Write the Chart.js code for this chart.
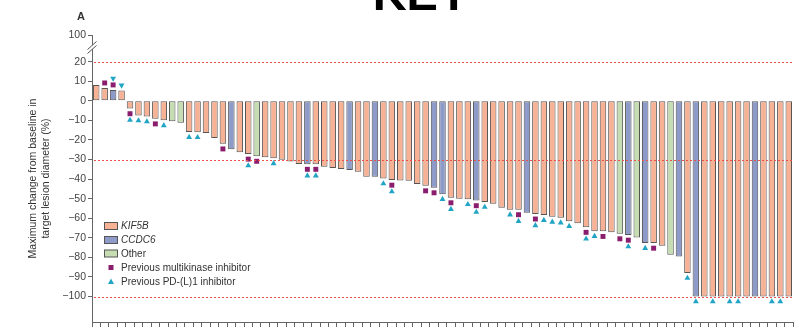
<!DOCTYPE html>
<html>
<head>
<meta charset="utf-8">
<script src="https://cdn.jsdelivr.net/npm/chart.js@4.4.1/dist/chart.umd.min.js"></script>
<style>
  html, body { margin: 0; padding: 0; background: #fff; }
  #wrap { width: 808px; height: 333px; }
</style>
</head>
<body>
<div id="wrap"><canvas id="waterfall"></canvas></div>
<script>
// BEST CHANGE IN TARGET LESION DIAMETER (%) PER PATIENT, SORTED
const changes = [
  8, 6.5, 5.5, 5.3, -4, -7.5, -8, -9.2, -10, -10.5,
  -11.2, -16, -16.1, -16.5, -19, -22, -24.8, -26.3, -27.2, -28.3,
  -28.8, -29.4, -30.1, -31, -32.3, -32.4, -32.4, -33.7, -34.4, -34.8,
  -35.4, -36.2, -38.8, -38.8, -39.7, -40.5, -40.7, -40.8, -42.5, -43.4,
  -44.4, -47.7, -49.5, -50, -50.3, -51, -51.7, -52.6, -54.7, -55.6,
  -55.6, -57.2, -57.8, -58.4, -59.3, -59.7, -61.5, -62.6, -64.6, -66.6,
  -66.7, -67.2, -67.9, -68.6, -69.9, -72.7, -72.7, -74, -78.7, -79.6,
  -88, -100, -100, -100, -100, -100, -100, -100, -100, -100,
  -100, -100, -100
];
// FUSION PARTNER PER PATIENT (K = KIF5B, C = CCDC6, O = Other)
const fusion = [
  'K','K','C','K','K','K','K','K','K','O',
  'O','K','K','K','K','K','C','K','K','O',
  'K','K','K','K','K','C','K','K','K','K',
  'C','K','K','C','K','K','K','K','K','K',
  'C','C','K','K','K','C','K','K','K','K',
  'K','C','K','K','K','K','K','K','K','K',
  'K','K','O','C','O','C','K','K','O','C',
  'K','C','K','K','K','K','K','K','C','K',
  'K','K','K'
];
// PATIENTS (1-BASED) WITH PREVIOUS TREATMENTS
const prevMultikinase = [2, 3, 5, 8, 16, 19, 20, 26, 27, 36, 40, 41, 43, 46, 51, 53, 59, 61, 63, 64, 67];
const prevPDL1 = [3, 4, 5, 6, 7, 9, 12, 13, 19, 22, 26, 27, 35, 36, 42, 43, 45, 46, 47, 50, 51, 53, 54, 55, 56, 57, 59, 60, 64, 66, 71, 72, 74, 76, 77, 81, 82];
// Y AXIS (TOP TICK SITS ABOVE THE BREAK AND READS 100)
const yTickValues = [-100, -90, -80, -70, -60, -50, -40, -30, -20, -10, 0, 10, 20, 33.6];
const yTickLabels = ['\u2212100', '\u221290', '\u221280', '\u221270', '\u221260', '\u221250', '\u221240', '\u221230', '\u221220', '\u221210', '0', '10', '20', '100'];
const refLines = [20, -30, -100];

const patients = changes.map((_, i) => String(i + 1));
const fusionNames = { K: 'KIF5B', C: 'CCDC6', O: 'Other' };
const fusionColors = { K: '#f7b295', C: '#8e9bc8', O: '#c6ddb3' };
const borderCol = '#555555';
const squareCol = '#8a1d6d';
const triCol = '#22a4c4';
const FONT = "'Liberation Sans', Arial, sans-serif";

Chart.defaults.font.family = FONT;

// marker offsets from the bar end, in axis units (1 unit ~ 1.96 px)
const gap1 = 2.6, gap2 = 5.9;
function markerY(v, slot) {
  const off = slot === 0 ? gap1 : gap2;
  return v >= 0 ? v + off : v - off;
}
const squareData = changes.map((v, i) => prevMultikinase.includes(i + 1) ? markerY(v, 0) : null);
const triData = changes.map((v, i) => {
  if (!prevPDL1.includes(i + 1)) return null;
  return markerY(v, prevMultikinase.includes(i + 1) ? 1 : 0);
});

//EXTRA DRAWING: REF LINES, AXIS BREAK, LEGEND, LABELS
const extras = {
  id: 'extras',
  afterDatasetsDraw(chart) {
    const { ctx, chartArea, scales } = chart;
    ctx.save();
    ctx.strokeStyle = '#e8524a';
    ctx.lineWidth = 1;
    ctx.setLineDash([2, 2]);
    refLines.forEach(v => {
      const y = Math.round(scales.y.getPixelForValue(v)) + 0.5;
      ctx.beginPath();
      ctx.moveTo(chartArea.left + 2, y);
      ctx.lineTo(chartArea.right, y);
      ctx.stroke();
    });
    ctx.restore();
  },
  afterDraw(chart) {
    const { ctx, chartArea } = chart;
    const ax = chartArea.left;
    ctx.save();
    // axis break
    ctx.fillStyle = '#fff';
    ctx.beginPath();
    ctx.moveTo(ax - 4, 49); ctx.lineTo(ax + 4, 42); ctx.lineTo(ax + 4, 46); ctx.lineTo(ax - 4, 53);
    ctx.closePath();
    ctx.fill();
    ctx.strokeStyle = '#555';
    ctx.lineWidth = 1;
    ctx.beginPath();
    ctx.moveTo(ax - 4.5, 49.5); ctx.lineTo(ax + 4.5, 41.5);
    ctx.moveTo(ax - 4.5, 53.5); ctx.lineTo(ax + 4.5, 45.5);
    ctx.stroke();

    // legend
    const lx = 104, tx = 121;
    const rows = [226, 240, 253.5];
    ['K', 'C', 'O'].forEach((k, i) => {
      ctx.fillStyle = fusionColors[k];
      ctx.fillRect(lx, rows[i] - 3.5, 14, 7);
      ctx.strokeStyle = borderCol;
      ctx.strokeRect(lx + 0.5, rows[i] - 3.5, 13, 7);
      ctx.fillStyle = '#333';
      ctx.font = (k === 'O' ? '' : 'italic ') + '10px ' + FONT;
      ctx.textBaseline = 'middle';
      ctx.textAlign = 'left';
      ctx.fillText(fusionNames[k], tx, rows[i] + 0.5);
    });
    ctx.fillStyle = squareCol;
    ctx.fillRect(108.5, 265, 5, 5);
    ctx.fillStyle = triCol;
    ctx.beginPath();
    ctx.moveTo(111, 278.5); ctx.lineTo(114, 284); ctx.lineTo(108, 284);
    ctx.closePath();
    ctx.fill();
    ctx.fillStyle = '#333';
    ctx.font = '10px ' + FONT;
    ctx.fillText('Previous multikinase inhibitor', tx, 268);
    ctx.fillText('Previous PD-(L)1 inhibitor', tx, 282);

    // panel letter and heading
    ctx.font = 'bold 11px ' + FONT;
    ctx.textBaseline = 'alphabetic';
    ctx.fillText('A', 77, 20);
    ctx.fillStyle = '#000';
    ctx.font = 'bold 47px ' + FONT;
    ctx.textAlign = 'center';
    ctx.fillText('KEY', 421, 10);
    ctx.restore();
  }
};

function buildChart() {
  const canvas = document.getElementById('waterfall');

  const data = {
    labels: patients,
    datasets: [
      {
        type: 'line',
        label: 'Previous multikinase inhibitor',
        data: squareData,
        showLine: false,
        pointStyle: 'rect',
        pointRadius: 3.5,
        pointBackgroundColor: squareCol,
        pointBorderWidth: 0,
        order: 0
      },
      {
        type: 'line',
        label: 'Previous PD-(L)1 inhibitor',
        data: triData,
        showLine: false,
        pointStyle: 'triangle',
        pointRadius: 3.4,
        pointRotation: changes.map(v => v > 0 ? 180 : 0),
        pointBackgroundColor: triCol,
        pointBorderWidth: 0,
        order: 0
      },
      {
        type: 'bar',
        label: 'Change',
        data: changes,
        backgroundColor: fusion.map(k => fusionColors[k]),
        borderColor: borderCol,
        borderWidth: 1,
        borderSkipped: false,
        categoryPercentage: 1,
        barPercentage: 0.77,
        order: 1
      }
    ]
  };

  new Chart(canvas, {
    data: data,
    options: {
      responsive: true,
      maintainAspectRatio: false,
      animation: false,
      devicePixelRatio: 1,
      layout: { padding: { left: 0, top: 35, right: 15, bottom: 0 } },
      plugins: {
        legend: { display: false },
        tooltip: { enabled: false }
      },
      scales: {
        x: {
          type: 'category',
          offset: true,
          ticks: { display: false },
          grid: { offset: true, drawOnChartArea: false, drawTicks: true, tickLength: 5, color: '#666' },
          border: { display: true, color: '#666' },
          afterFit: s => { s.height = 11; }
        },
        y: {
          type: 'linear',
          min: -113,
          max: 33.6,
          afterBuildTicks: s => { s.ticks = yTickValues.map(v => ({ value: v })); },
          ticks: {
            callback: (v, i) => yTickLabels[i],
            font: { size: 10.5 },
            color: '#444',
            padding: 2
          },
          grid: { drawOnChartArea: false, tickLength: 4, color: '#666' },
          border: { color: '#666' },
          title: {
            display: true,
            text: ['Maximum change from baseline in', 'target lesion diameter (%)'],
            font: { size: 10.5 },
            color: '#333',
            padding: { top: 27, bottom: 0 }
          },
          afterFit: s => { s.width = 92; }
        }
      }
    },
    plugins: [extras]
  });
}

document.addEventListener('DOMContentLoaded', () => {
  buildChart();
});
</script>
</body>
</html>
